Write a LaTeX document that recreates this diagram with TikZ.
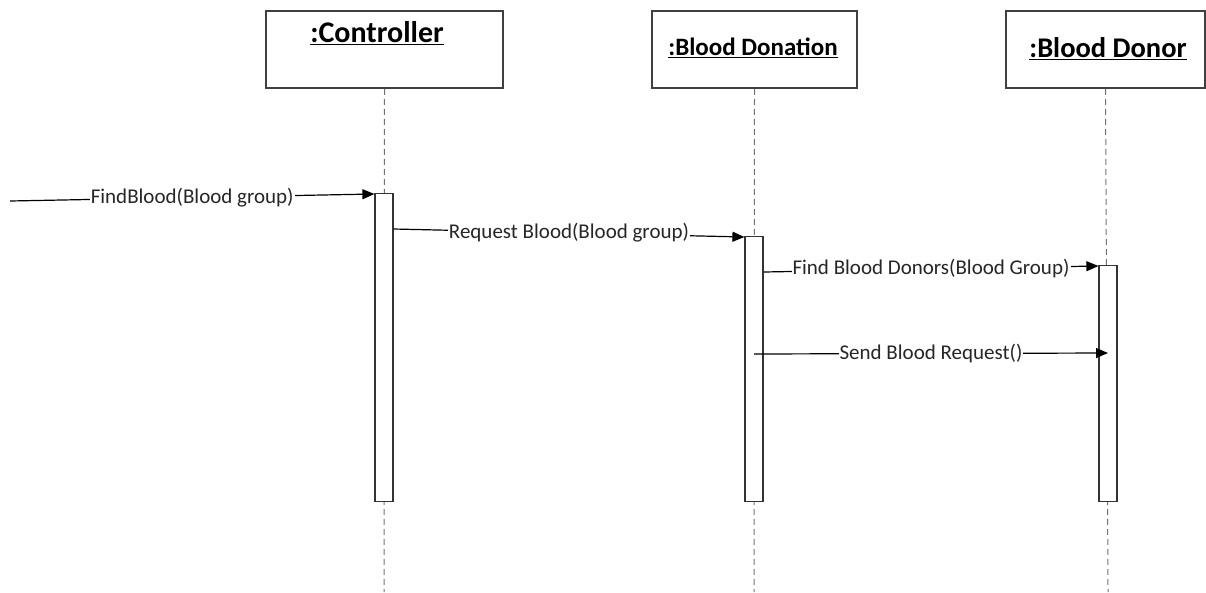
\documentclass[tikz,border=0pt]{standalone}
\usepackage{fontspec}
\setmainfont{Carlito}
\usetikzlibrary{arrows.meta,positioning}

\begin{document}
\begin{tikzpicture}[
  x=1pt,y=-1pt,
  head/.style={draw=black!75,line width=1.5pt,minimum height=77pt,inner sep=0pt},
  title/.style={font=\bfseries\fontsize{30}{34}\selectfont,inner sep=0pt},
  act/.style={draw=black!80,fill=white,line width=1.2pt,minimum width=18pt,
    inner sep=0pt,anchor=north},
  lifeline/.style={draw=black!55,line width=1pt,dash pattern=on 6pt off 4pt},
  msg/.style={-{Triangle[length=12pt,width=10pt]},line width=1.2pt},
  lbl/.style={fill=white,inner sep=1pt,font=\fontsize{21}{24}\selectfont,text=black!85}
]
\useasboundingbox (0,0) rectangle (1206,592);
\node[head,minimum width=237pt] (ctrl) at (384.5,49.5) {};
\node[head,minimum width=205pt] (donation) at (754.5,49.5) {};
\node[head,minimum width=199pt] (donor) at (1105.5,49.5) {};
\node[title] (ctrltitle) at (377,33) {\underline{:Controller}};
\node[title,font=\bfseries\fontsize{25}{29}\selectfont] (donationtitle) at (753,48) {\underline{:Blood Donation}};
\node[title,font=\bfseries\fontsize{28.5}{32}\selectfont] (donortitle) at (1108,49) {\underline{:Blood Donor}};
\coordinate (ctrlend) at (384,592);
\coordinate (donationend) at (754,592);
\coordinate (donorend) at (1108,592);
\draw[lifeline] (ctrl.south) -- (ctrlend);
\draw[lifeline] (donation.south) -- (donationend);
\draw[lifeline] (donor.south) -- (donorend);
\node[act,minimum height=308pt] (ctrlact) at (384,193) {};
\node[act,minimum height=265pt] (donationact) at (754,236) {};
\node[act,minimum height=236pt] (donoract) at (1108,265) {};
\coordinate (caller) at (10,201);
\draw[msg] (caller) -- node[lbl] {FindBlood(Blood group)} ([yshift=-1pt]ctrlact.north west);
\draw[msg] ([yshift=-36pt]ctrlact.north east) -- node[lbl] {Request Blood(Blood group)}
  ([yshift=-1pt]donationact.north west);
\draw[msg] ([yshift=-36pt]donationact.north east) -- node[lbl] {Find Blood Donors(Blood Group)}
  ([yshift=-1pt]donoract.north west);
\draw[msg] ([yshift=-118pt]donationact.north) -- node[lbl] {Send Blood Request()}
  ([yshift=-88pt]donoract.north);
\end{tikzpicture}
\end{document}
